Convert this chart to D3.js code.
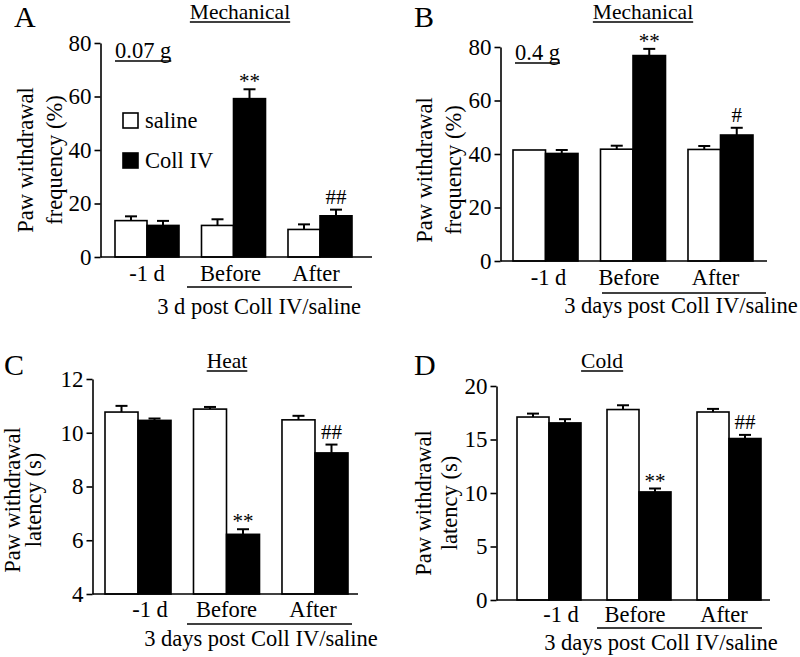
<!DOCTYPE html>
<html><head><meta charset="utf-8">
<script src="https://cdn.jsdelivr.net/npm/d3@7"></script>
<style>
body{margin:0;background:#fff}
svg{display:block}
text{font-family:"Liberation Serif","Times New Roman",serif;fill:#000}
</style>
</head><body><svg id="c" width="800" height="657"></svg>
<script>
// ---------- data ----------
const groups = ["-1 d", "Before", "After"];
const seriesNames = ["saline", "Coll IV"];

// A: Mechanical 0.07 g (%)
const mechA_saline = [13.6, 11.8, 10.3];
const mechA_salineErr = [1.6, 2.3, 1.9];
const mechA_coll = [11.8, 59.2, 15.4];
const mechA_collErr = [1.7, 3.5, 2.3];
const mechA_ticks = [0, 20, 40, 60, 80];
const mechA_marks = ["", "**", "##"];

// B: Mechanical 0.4 g (%)
const mechB_saline = [41.5, 41.8, 41.7];
const mechB_salineErr = [0, 1.3, 1.3];
const mechB_coll = [40.2, 76.8, 47.1];
const mechB_collErr = [1.3, 2.5, 2.7];
const mechB_ticks = [0, 20, 40, 60, 80];
const mechB_marks = ["", "**", "#"];

// C: Heat latency (s)
const heat_saline = [10.77, 10.88, 10.48];
const heat_salineErr = [0.23, 0.08, 0.15];
const heat_coll = [10.46, 6.22, 9.25];
const heat_collErr = [0.07, 0.19, 0.31];
const heat_ticks = [4, 6, 8, 10, 12];
const heat_marks = ["", "**", "##"];

// D: Cold latency (s)
const cold_saline = [17.1, 17.8, 17.57];
const cold_salineErr = [0.32, 0.4, 0.29];
const cold_coll = [16.55, 10.1, 15.09];
const cold_collErr = [0.35, 0.32, 0.34];
const cold_ticks = [0, 5, 10, 15, 20];
const cold_marks = ["", "**", "##"];

// ---------- layout ----------
const panels = [
  {letter:"A", title:"Mechanical", force:"0.07 g", legend:true,
   ylab:["Paw withdrawal","frequency (%)"], caption:"3 d post Coll IV/saline",
   saline:mechA_saline, salineErr:mechA_salineErr, coll:mechA_coll, collErr:mechA_collErr,
   ticks:mechA_ticks, marks:mechA_marks,
   L:{ax:100.5, yTop:43, yBot:257, xRight:372, band:[115,352], pad:0.26,
      letterX:14, letterY:27, titleX:240, titleY:19,
      yl1:33, yl2:62, ylY:160, forceX:115, forceY:58,
      xlabY:281, xlabDx:[0,-3,-4], ulX:[187,352], ulY:287, capX:259, capY:314}},
  {letter:"B", title:"Mechanical", force:"0.4 g", legend:false,
   ylab:["Paw withdrawal","frequency (%)"], caption:"3 days post Coll IV/saline",
   saline:mechB_saline, salineErr:mechB_salineErr, coll:mechB_coll, collErr:mechB_collErr,
   ticks:mechB_ticks, marks:mechB_marks,
   L:{ax:500.5, yTop:47, yBot:261, xRight:767, band:[513,753], pad:0.257,
      letterX:414, letterY:27, titleX:643, titleY:19,
      yl1:432, yl2:461, ylY:170, forceX:515, forceY:60,
      xlabY:285, xlabDx:[3,-4,-5], ulX:[602,766], ulY:293, capX:681, capY:313}},
  {letter:"C", title:"Heat", force:null, legend:false,
   ylab:["Paw withdrawal","latency (s)"], caption:"3 days post Coll IV/saline",
   saline:heat_saline, salineErr:heat_salineErr, coll:heat_coll, collErr:heat_collErr,
   ticks:heat_ticks, marks:heat_marks,
   L:{ax:92.5, yTop:379, yBot:594, xRight:358, band:[105,348], pad:0.254,
      letterX:4, letterY:375, titleX:227, titleY:368,
      yl1:20, yl2:41, ylY:500, forceX:0, forceY:0,
      xlabY:617, xlabDx:[12,0,-2], ulX:[187,352], ulY:624, capX:261, capY:646}},
  {letter:"D", title:"Cold", force:null, legend:false,
   ylab:["Paw withdrawal","latency (s)"], caption:"3 days post Coll IV/saline",
   saline:cold_saline, salineErr:cold_salineErr, coll:cold_coll, collErr:cold_collErr,
   ticks:cold_ticks, marks:cold_marks,
   L:{ax:496.5, yTop:386, yBot:600, xRight:770, band:[517,761], pad:0.289,
      letterX:414, letterY:375, titleX:602, titleY:368,
      yl1:431, yl2:457, ylY:503, forceX:0, forceY:0,
      xlabY:622, xlabDx:[12,-4,-5], ulX:[597,762], ulY:628, capX:661, capY:650}}
];

const svg = d3.select("#c");
const FS = 22.5;
const SERIF = '"Liberation Serif","Times New Roman",serif';

function underlined(g, txt, x, y, anchor, size) {
  const t = g.append("text").attr("x", x).attr("y", y).attr("text-anchor", anchor)
    .attr("font-size", size).text(txt);
  const bb = t.node().getBBox();
  g.append("line").attr("x1", bb.x).attr("x2", bb.x + bb.width)
    .attr("y1", y + 3).attr("y2", y + 3).attr("stroke", "#000").attr("stroke-width", 1.3);
}

panels.forEach(p => {
  const L = p.L;
  const g = svg.append("g");
  const y = d3.scaleLinear().domain([p.ticks[0], p.ticks[p.ticks.length - 1]]).range([L.yBot, L.yTop]);
  const x0 = d3.scaleBand().domain(groups).range(L.band).paddingInner(L.pad).paddingOuter(0);
  const x1 = d3.scaleBand().domain(seriesNames).range([0, x0.bandwidth()]);

  const rows = groups.map((grp, i) => [
    {grp, s:"saline", v:p.saline[i], e:p.salineErr[i], m:""},
    {grp, s:"Coll IV", v:p.coll[i], e:p.collErr[i], m:p.marks[i]}
  ]).flat();

  // bars
  g.selectAll("rect.bar").data(rows).join("rect")
    .attr("x", d => x0(d.grp) + x1(d.s))
    .attr("y", d => y(d.v))
    .attr("width", x1.bandwidth())
    .attr("height", d => y(p.ticks[0]) - y(d.v))
    .attr("fill", d => d.s === "saline" ? "#fff" : "#000")
    .attr("stroke", "#000").attr("stroke-width", 1.6);

  // error bars
  const cap = 6;
  rows.filter(d => d.e > 0).forEach(d => {
    const cx = x0(d.grp) + x1(d.s) + x1.bandwidth() / 2;
    g.append("line").attr("x1", cx).attr("x2", cx).attr("y1", y(d.v)).attr("y2", y(d.v + d.e))
      .attr("stroke", "#000").attr("stroke-width", 2);
    g.append("line").attr("x1", cx - cap).attr("x2", cx + cap).attr("y1", y(d.v + d.e)).attr("y2", y(d.v + d.e))
      .attr("stroke", "#000").attr("stroke-width", 2);
    if (d.m) {
      g.append("text").attr("x", cx).attr("y", y(d.v + d.e) - (d.m[0] === "*" ? 1 : 6))
        .attr("text-anchor", "middle").attr("font-size", 21).text(d.m);
    }
  });

  // y axis
  const ax = g.append("g").attr("transform", `translate(${L.ax},0)`)
    .call(d3.axisLeft(y).tickValues(p.ticks).tickSize(6).tickSizeOuter(0).tickPadding(3).tickFormat(d3.format("d")));
  ax.attr("font-family", null).attr("font-size", null);
  ax.select(".domain").attr("stroke-width", 1.6);
  ax.selectAll(".tick line").attr("stroke-width", 1.6);
  ax.selectAll(".tick text").style("font-size", "23px").style("font-family", SERIF);

  // x axis baseline
  g.append("line").attr("x1", L.ax).attr("x2", L.xRight).attr("y1", L.yBot).attr("y2", L.yBot)
    .attr("stroke", "#000").attr("stroke-width", 1.6);

  // x labels
  groups.forEach((grp, i) => {
    g.append("text").attr("x", x0(grp) + x0.bandwidth() / 2 + L.xlabDx[i]).attr("y", L.xlabY)
      .attr("text-anchor", "middle").attr("font-size", FS).text(grp);
  });
  g.append("line").attr("x1", L.ulX[0]).attr("x2", L.ulX[1]).attr("y1", L.ulY).attr("y2", L.ulY)
    .attr("stroke", "#000").attr("stroke-width", 1.6);
  g.append("text").attr("x", L.capX).attr("y", L.capY).attr("text-anchor", "middle")
    .attr("font-size", FS).text(p.caption);

  // y label
  g.append("text").attr("transform", `translate(${L.yl1},${L.ylY}) rotate(-90)`)
    .attr("text-anchor", "middle").attr("font-size", FS).text(p.ylab[0]);
  g.append("text").attr("transform", `translate(${L.yl2},${L.ylY}) rotate(-90)`)
    .attr("text-anchor", "middle").attr("font-size", FS).text(p.ylab[1]);

  // panel letter & title
  g.append("text").attr("x", L.letterX).attr("y", L.letterY).attr("font-size", 30).text(p.letter);
  underlined(g, p.title, L.titleX, L.titleY, "middle", 21.5);
  if (p.force) underlined(g, p.force, L.forceX, L.forceY, "start", FS);

  // legend
  if (p.legend) {
    seriesNames.forEach((s, i) => {
      g.append("rect").attr("x", 123).attr("y", 113 + i * 40).attr("width", 15).attr("height", 15)
        .attr("fill", s === "saline" ? "#fff" : "#000").attr("stroke", "#000").attr("stroke-width", 1.6);
      g.append("text").attr("x", 145).attr("y", 128 + i * 40).attr("font-size", FS).text(s);
    });
  }
});
</script>
</body></html>
